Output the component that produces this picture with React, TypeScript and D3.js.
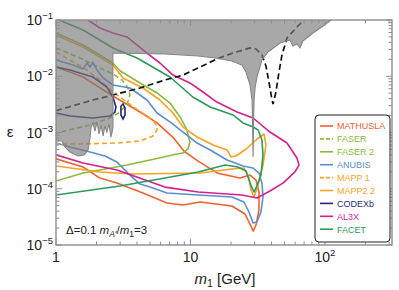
import * as d3 from "d3";

type Pt = [number, number]; // [m1 in GeV, epsilon]

const mathusla: Pt[] = [
  [1, 0.0146], [1.59, 0.0097], [2.65, 0.00446], [4.21, 0.00231], [5.64, 0.00148],
  [7.41, 8.2e-4], [9.0, 4.6e-4], [11.4, 3.1e-4], [16.0, 1.88e-4], [23.3, 1.55e-4],
  [27.7, 1.75e-4], [30.7, 1.43e-4], [32.3, 8.75e-5], [32.3, 4.19e-5], [30.7, 2.27e-5],
  [29.2, 1.77e-5], [27.7, 2.36e-5], [25.4, 3.56e-5], [20.3, 4.93e-5], [11.8, 5.81e-5],
  [8.8, 5.14e-5], [6.69, 5.58e-5], [4.43, 8.4e-5], [2.84, 1.26e-4], [2.12, 1.55e-4],
  [1.59, 2.44e-4], [1, 3.4e-4],
];

const faser: Pt[] = [
  [1, 0.0318], [1.51, 0.0211], [2.12, 0.014], [2.65, 0.011], [3.1, 0.00858],
  [3.43, 0.00618], [3.55, 0.00464], [3.37, 0.00321], [2.99, 0.00231], [2.52, 0.00181],
  [1.79, 0.00136], [1, 9.8e-4],
];

const faser2: Pt[] = [
  [1, 0.0588], [1.59, 0.0359], [2.65, 0.0172], [2.99, 0.0125], [4.21, 0.0076],
  [5.64, 0.00504], [7.04, 0.00334], [8.36, 0.00189], [9.42, 0.00111], [9.9, 6.77e-4],
  [9.58, 5.09e-4], [8.8, 4.32e-4], [7.94, 4.15e-4], [5.0, 3.25e-4], [3.37, 2.64e-4],
  [2.12, 2.16e-4], [1.59, 1.9e-4], [1, 1.37e-4],
];

const anubis: Pt[] = [
  [1, 0.0195], [1.34, 0.0158], [1.59, 0.0135], [1.7, 0.0172], [1.79, 0.0146],
  [1.88, 0.0179], [2.02, 0.0129], [2.24, 0.0093], [2.65, 0.00699], [3.55, 0.00618],
  [4.75, 0.00378], [5.64, 0.00222], [7.04, 0.00154], [8.8, 0.00102], [11.2, 6.5e-4],
  [14.0, 4.89e-4], [18.7, 3.25e-4], [24.6, 2.54e-4], [29.2, 2.34e-4], [32.3, 1.9e-4],
  [34.0, 1.26e-4], [34.6, 7.13e-5], [33.4, 3.86e-5], [31.2, 2.56e-5], [29.2, 2.46e-5],
  [27.2, 3.86e-5], [25.0, 5.81e-5], [20.3, 7.13e-5], [11.4, 7.74e-5], [6.69, 8.4e-5],
  [5.0, 1.07e-4], [4.21, 1.21e-4], [3.55, 1.75e-4], [2.84, 2.99e-4], [2.31, 3.82e-4],
  [1.79, 4.5e-4], [1.27, 5.52e-4], [1, 6.5e-4],
];

const mapp1: Pt[] = [
  [1, 0.027], [1.27, 0.0195], [1.7, 0.0129], [2.12, 0.00858], [2.65, 0.00525],
  [3.87, 0.00273], [5.0, 0.00181], [5.54, 0.00142], [5.64, 0.00111], [5.26, 8.66e-4],
  [4.21, 7.06e-4], [2.84, 6.5e-4], [1.51, 6.25e-4], [1, 6.25e-4],
];

const mapp2: Pt[] = [
  [1, 0.0541], [1.59, 0.0331], [2.65, 0.0158], [3.15, 0.0093], [4.43, 0.00618],
  [5.93, 0.00378], [7.41, 0.00222], [8.8, 0.00125], [11.2, 8.32e-4], [14.7, 6.0e-4],
  [18.7, 4.89e-4], [20.0, 3.67e-4], [21.8, 3.82e-4], [25.9, 5.09e-4], [30.7, 7.36e-4],
  [35.2, 9.4e-4], [36.4, 6.0e-4], [34.6, 2.64e-4], [31.8, 1.17e-4], [29.7, 7.13e-5],
  [28.2, 9.5e-5], [27.2, 1.55e-4], [25.0, 2.34e-4], [20.3, 2.25e-4], [11.8, 1.9e-4],
  [3.74, 1.83e-4], [2.12, 1.99e-4], [1, 2.54e-4],
];

const codexb: Pt[] = [
  [1, 0.0146], [1.27, 0.0129], [1.88, 0.0097], [2.39, 0.00644], [2.65, 0.00428],
  [2.79, 0.00284], [2.74, 0.00231], [2.52, 0.00196], [1.88, 0.00181], [1.27, 0.00196],
  [1, 0.00222],
];

const codexbIsland: Pt[] = [
  [3.04, 0.00296], [3.15, 0.00321], [3.26, 0.00273], [3.26, 0.00205], [3.15, 0.00174],
  [3.04, 0.00205], [3.04, 0.00273], [3.04, 0.00296],
];

const al3x: Pt[] = [
  [1.73, 0.1], [2.12, 0.0721], [2.65, 0.0588], [3.37, 0.0499], [4.75, 0.0259],
  [5.93, 0.0172], [7.41, 0.0105], [9.9, 0.0076], [11.8, 0.0057], [15.7, 0.00348],
  [22.2, 0.00231], [29.2, 0.00181], [39.0, 0.00102], [52.2, 6.5e-4], [61.9, 3.52e-4],
  [64.1, 2.64e-4], [59.8, 1.99e-4], [48.7, 1.26e-4], [39.0, 9.12e-5], [31.2, 6.85e-5],
  [24.1, 7.74e-5], [11.4, 8.75e-5], [6.46, 1.07e-4], [2.84, 2.16e-4], [1.59, 2.87e-4],
  [1, 4.0e-4],
];

const facet: Pt[] = [
  [1, 0.105], [1.59, 0.0664], [2.65, 0.0318], [4.0, 0.0211], [7.04, 0.0097],
  [10.4, 0.00428], [14.0, 0.00284], [20.7, 0.00205], [24.6, 0.00148], [29.2, 0.00125],
  [31.8, 0.00111], [34.0, 7.36e-4], [34.6, 3.98e-4], [33.4, 1.75e-4], [31.2, 1.12e-4],
  [29.7, 8.75e-5], [28.2, 1.12e-4], [25.9, 2.07e-4], [22.5, 2.44e-4], [18.1, 2.64e-4],
  [11.4, 1.99e-4], [6.46, 1.55e-4], [2.99, 1.12e-4], [1, 7.74e-5],
];

// black dashed reference curve
const reference: Pt[] = [
  [1, 0.00245], [1.88, 0.00378], [2.65, 0.00464], [4.21, 0.00618], [6.46, 0.00858],
  [8.8, 0.0105], [11.8, 0.0146], [15.7, 0.0203], [20.7, 0.0259], [27.7, 0.0318],
  [30.7, 0.0305], [34.0, 0.0239], [36.4, 0.0152], [38.3, 0.0079], [40.4, 0.00378],
  [41.1, 0.00321], [43.2, 0.00525], [45.5, 0.0119], [47.9, 0.0239], [52.2, 0.0479],
  [61.9, 0.0751], [71.0, 0.104],
];

// lower edge of the excluded (grey) region
const excluded: Pt[] = [
  [0.5, 7.36e-4], [1, 7.36e-4], [1.108, 7.06e-4], [1.166, 5.52e-4], [1.27, 4.5e-4],
  [1.457, 3.82e-4], [1.615, 3.98e-4], [1.73, 4.89e-4], [1.79, 7.98e-4], [1.82, 1.2e-3],
  [1.88, 1.48e-3], [1.95, 1.06e-3], [2.02, 1.54e-3], [2.09, 9.4e-4], [2.16, 1.36e-3],
  [2.24, 8.66e-4], [2.31, 1.31e-3], [2.39, 1.02e-3], [2.48, 1.42e-3], [2.56, 8.3e-4],
  [2.65, 1.2e-3], [2.65, 0.0259], [6.46, 0.0249], [11.4, 0.0229], [15.2, 0.0211],
  [20.3, 0.0187], [24.1, 0.0158], [25.9, 0.0119], [27.7, 0.00699], [28.7, 0.00378],
  [28.95, 1.36e-3], [29.2, 3.67e-4], [29.4, 1.36e-3], [29.7, 0.00378], [30.2, 0.00618],
  [31.2, 0.0097], [34.0, 0.0195], [37.7, 0.027], [46.3, 0.039], [54.9, 0.0441],
  [57.8, 0.0345], [61.9, 0.0374], [65.2, 0.0318], [68.6, 0.0424], [81.5, 0.0588],
  [96.7, 0.0782], [114, 0.104], [400, 0.5], [0.5, 0.5],
];

const series = [
  { name: "MATHUSLA", color: "#ee6231", dashed: false, data: mathusla },
  { name: "FASER", color: "#8dba3c", dashed: true, data: faser },
  { name: "FASER 2", color: "#8dba3c", dashed: false, data: faser2 },
  { name: "ANUBIS", color: "#5b8dcf", dashed: false, data: anubis },
  { name: "MAPP 1", color: "#f8a224", dashed: true, data: mapp1 },
  { name: "MAPP2 2", color: "#f8a224", dashed: false, data: mapp2 },
  { name: "CODEXb", color: "#1f2878", dashed: false, data: codexb },
  { name: "AL3X", color: "#d41f8e", dashed: false, data: al3x },
  { name: "FACET", color: "#2b9a5b", dashed: false, data: facet },
];

const yExponents = [-5, -4, -3, -2, -1];
const xLabels = [
  { v: 1, base: "1", sup: "" },
  { v: 10, base: "10", sup: "" },
  { v: 100, base: "10", sup: "2" },
];

export default function App() {
  const left = 56, right = 392, top = 20, bottom = 245;
  const x = d3.scaleLog().domain([1, 315]).range([left, right]);
  const y = d3.scaleLog().domain([1e-5, 0.1]).range([bottom, top]);
  const line = d3.line<Pt>().x((d) => x(d[0])).y((d) => y(d[1]));
  const frame = "#8e8e8e";
  const font = "'Liberation Sans', Arial, sans-serif";

  const xTicks = x.ticks();
  const yTicks = y.ticks();
  const isMajor = (v: number) => Math.abs(Math.log10(v) - Math.round(Math.log10(v))) < 1e-6;

  return (
    <svg width={399} height={290} style={{ position: "absolute", left: 0, top: 0 }} fontFamily={font}>
      <defs>
        <clipPath id="plot">
          <rect x={left} y={top} width={right - left} height={bottom - top} />
        </clipPath>
      </defs>
      <rect x={0} y={0} width={399} height={290} fill="white" />
      <g clipPath="url(#plot)">
        {series.map((s) => (
          <path
            key={s.name}
            d={line(s.data) ?? ""}
            fill="none"
            stroke={s.color}
            strokeWidth={1.6}
            strokeDasharray={s.dashed ? "5,3" : undefined}
            strokeLinejoin="round"
          />
        ))}
        <path d={line(codexbIsland) ?? ""} fill="none" stroke="#1f2878" strokeWidth={1.6} />
        <path d={line(reference) ?? ""} fill="none" stroke="#111" strokeWidth={1.7} strokeDasharray="6,3.5" />
        <path d={line(excluded) + "Z"} fill="#7b7b7b" fillOpacity={0.66} stroke="#858585" strokeWidth={1.1} />
      </g>

      {/* frame and ticks */}
      <rect x={left} y={top} width={right - left} height={bottom - top} fill="none" stroke={frame} strokeWidth={1.4} />
      {xTicks.map((t) => {
        const len = isMajor(t) ? 6 : 3.5;
        return (
          <g key={"x" + t} stroke={frame} strokeWidth={1}>
            <line x1={x(t)} x2={x(t)} y1={bottom} y2={bottom - len} />
            <line x1={x(t)} x2={x(t)} y1={top} y2={top + len} />
          </g>
        );
      })}
      {yTicks.map((t) => {
        const len = isMajor(t) ? 6 : 3.5;
        return (
          <g key={"y" + t} stroke={frame} strokeWidth={1}>
            <line x1={left} x2={left + len} y1={y(t)} y2={y(t)} />
            <line x1={right} x2={right - len} y1={y(t)} y2={y(t)} />
          </g>
        );
      })}

      {yExponents.map((e) => (
        <text key={e} x={53} y={y(Math.pow(10, e)) + 5} textAnchor="end" fontSize={14} fill="#222">
          10<tspan dy={-6} fontSize={9.5}>{"\u2212" + Math.abs(e)}</tspan>
        </text>
      ))}
      {xLabels.map((l) => (
        <text key={l.v} x={x(l.v)} y={262} textAnchor="middle" fontSize={14} fill="#222">
          {l.base}
          {l.sup && <tspan dy={-6} fontSize={9.5}>{l.sup}</tspan>}
        </text>
      ))}

      <text x={225} y={284} textAnchor="middle" fontSize={15} fill="#222">
        <tspan fontStyle="italic">m</tspan>
        <tspan dy={3} fontSize={10.5}>1</tspan>
        <tspan dy={-3}> [GeV]</tspan>
      </text>
      <text x={10} y={137} textAnchor="middle" fontSize={15} fill="#222">ε</text>

      <text x={66} y={234} fontSize={11.5} fill="#222">
        Δ=0.1 <tspan fontStyle="italic">m</tspan>
        <tspan dy={2.5} fontSize={8.5} fontStyle="italic">A'</tspan>
        <tspan dy={-2.5}>/</tspan>
        <tspan fontStyle="italic">m</tspan>
        <tspan dy={2.5} fontSize={8.5}>1</tspan>
        <tspan dy={-2.5}>=3</tspan>
      </text>

      {/* legend */}
      <rect x={315} y={115} width={75} height={127} rx={4} fill="white" stroke="#222" strokeWidth={1} />
      {series.map((s, i) => {
        const ly = 126 + i * 12.9;
        return (
          <g key={"lg" + s.name}>
            <line x1={320} x2={333} y1={ly} y2={ly} stroke={s.color} strokeWidth={1.6}
              strokeDasharray={s.dashed ? "4,2" : undefined} />
            <text x={337} y={ly + 3.3} fontSize={9} fill={s.color}>{s.name}</text>
          </g>
        );
      })}
    </svg>
  );
}
